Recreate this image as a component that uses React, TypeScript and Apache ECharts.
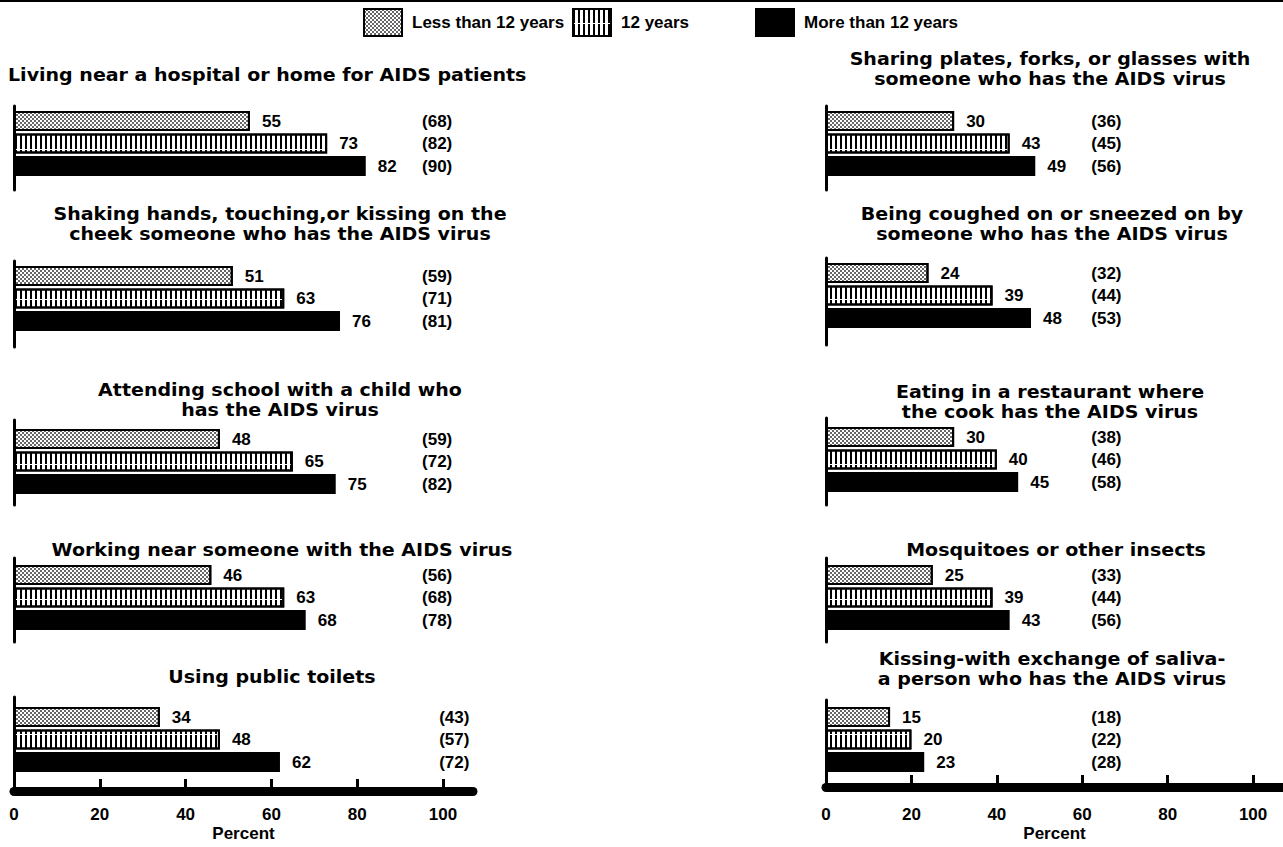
import React, { useEffect, useRef } from "react";
import * as echarts from "echarts";

// ---------- data ----------
const SERIES_NAMES = ["Less than 12 years", "12 years", "More than 12 years"];

const PANEL_TITLES = [
  "Living near a hospital or home for AIDS patients",
  "Shaking hands, touching,or kissing on the\ncheek someone who has the AIDS virus",
  "Attending school with a child who\nhas the AIDS virus",
  "Working near someone with the AIDS virus",
  "Using public toilets",
  "Sharing plates, forks, or glasses with\nsomeone who has the AIDS virus",
  "Being coughed on or sneezed on by\nsomeone who has the AIDS virus",
  "Eating in a restaurant where\nthe cook has the AIDS virus",
  "Mosquitoes or other insects",
  "Kissing-with exchange of saliva-\na person who has the AIDS virus",
];

// percent per panel, by education
const lessThan12 = [55, 51, 48, 46, 34, 30, 24, 30, 25, 15];
const twelveYears = [73, 63, 65, 63, 48, 43, 39, 40, 39, 20];
const moreThan12 = [82, 76, 75, 68, 62, 49, 48, 45, 43, 23];

// values shown in parentheses
const lessThan12Paren = [68, 59, 59, 56, 43, 36, 32, 38, 33, 18];
const twelveYearsParen = [82, 71, 72, 68, 57, 45, 44, 46, 44, 22];
const moreThan12Paren = [90, 81, 82, 78, 72, 56, 53, 58, 56, 28];

const X_TICKS = [0, 20, 40, 60, 80, 100];
const AXIS_NAME = "Percent";

// ---------- layout ----------
const FONT = '"Liberation Sans", Arial, Helvetica, sans-serif';
const TITLE_FONT = 'bold 17px "DejaVu Sans", Verdana, sans-serif';
const TITLE_SCALE_X = 1.12;
const TITLE_LINE_H = 20;
const FS = 17;
const X_MAX = 107;
const BAND = 22.5;
const BAR_W = 20;
const SIDES = [
  { left: 14, width: 459, axisBottom: 791, labelMargin: 15, nameGap: 34 },
  { left: 826, width: 458, axisBottom: 787, labelMargin: 19, nameGap: 38 },
];
const PANELS = [
  { side: 0, titleX: 8, align: "left", titleTop: 65, barCenter: 121, frameTop: 106, frameBottom: 190, parenX: 95, bottom: false },
  { side: 0, titleX: 280, align: "center", titleTop: 204, barCenter: 276, frameTop: 261, frameBottom: 347, parenX: 95, bottom: false },
  { side: 0, titleX: 280, align: "center", titleTop: 380, barCenter: 439, frameTop: 420, frameBottom: 505, parenX: 95, bottom: false },
  { side: 0, titleX: 282, align: "center", titleTop: 540, barCenter: 575, frameTop: 558, frameBottom: 642, parenX: 95, bottom: false },
  { side: 0, titleX: 272, align: "center", titleTop: 667, barCenter: 717, frameTop: 697, frameBottom: 791, parenX: 99, bottom: true },
  { side: 1, titleX: 1050, align: "center", titleTop: 49, barCenter: 121, frameTop: 106, frameBottom: 190, parenX: 62, bottom: false },
  { side: 1, titleX: 1052, align: "center", titleTop: 204, barCenter: 273, frameTop: 258, frameBottom: 345, parenX: 62, bottom: false },
  { side: 1, titleX: 1050, align: "center", titleTop: 382, barCenter: 437, frameTop: 418, frameBottom: 505, parenX: 62, bottom: false },
  { side: 1, titleX: 1056, align: "center", titleTop: 540, barCenter: 575, frameTop: 558, frameBottom: 642, parenX: 62, bottom: false },
  { side: 1, titleX: 1052, align: "center", titleTop: 649, barCenter: 717, frameTop: 700, frameBottom: 787, parenX: 62, bottom: true },
];
const LEGEND_LEFT = [363, 572, 755];

const dotDecal = {
  symbol: "rect",
  symbolSize: 0.8,
  color: "#000",
  backgroundColor: "#fff",
  dashArrayX: [
    [2, 2],
    [0, 2, 2, 0],
  ],
  dashArrayY: [2, 0],
  rotation: 0,
};
const stripeDecal = {
  symbol: "rect",
  symbolSize: 1,
  color: "#000",
  backgroundColor: "#fff",
  dashArrayX: [2, 2.2],
  dashArrayY: [14, 1],
  rotation: 0,
};

const STYLES = [
  { color: "#fff", borderColor: "#000", borderWidth: 2, decal: dotDecal },
  { color: "#fff", borderColor: "#000", borderWidth: 2, decal: stripeDecal },
  { color: "#000", borderColor: "#000", borderWidth: 2 },
];

function buildOption() {
  const values = [lessThan12, twelveYears, moreThan12];
  const parens = [lessThan12Paren, twelveYearsParen, moreThan12Paren];
  const grid: any[] = [];
  const xAxis: any[] = [];
  const yAxis: any[] = [];
  const series: any[] = [];
  const graphic: any[] = [
    { type: "rect", shape: { x: 0, y: 0, width: 1283, height: 2 }, style: { fill: "#000" } },
  ];
  const labelText = { fontFamily: FONT, fontWeight: "bold", fontSize: FS, color: "#000" };

  PANELS.forEach((p, i) => {
    const s = SIDES[p.side];
    const bottom = p.bottom ? s.axisBottom : p.frameBottom;
    // bar grid
    grid.push({ left: s.left, width: s.width, top: p.barCenter - BAND / 2, height: BAND * 3 });
    // frame grid (axes)
    grid.push({ left: s.left, width: s.width, top: p.frameTop, height: bottom - p.frameTop });
    const gA = 2 * i;
    const gB = 2 * i + 1;
    xAxis.push({ type: "value", gridIndex: gA, min: 0, max: X_MAX, show: false });
    yAxis.push({ type: "category", gridIndex: gA, data: SERIES_NAMES, inverse: true, show: false });
    xAxis.push({
      type: "value",
      gridIndex: gB,
      min: 0,
      max: X_MAX,
      show: p.bottom,
      position: "bottom",
      axisLine: { show: true, onZero: false, lineStyle: { color: "#000", width: 9 } },
      axisTick: {
        show: true,
        inside: true,
        length: 12,
        customValues: X_TICKS,
        lineStyle: { color: "#000", width: 3 },
      },
      axisLabel: { show: true, customValues: X_TICKS, margin: s.labelMargin, ...labelText },
      splitLine: { show: false },
      name: AXIS_NAME,
      nameLocation: "middle",
      nameGap: s.nameGap,
      nameTextStyle: { ...labelText },
    });
    yAxis.push({
      type: "value",
      gridIndex: gB,
      min: 0,
      max: 1,
      axisLine: { show: true, onZero: false, lineStyle: { color: "#000", width: 3 } },
      axisTick: { show: false },
      axisLabel: { show: false },
      splitLine: { show: false },
    });

    SERIES_NAMES.forEach((name, k) => {
      series.push({
        type: "bar",
        name,
        xAxisIndex: gA,
        yAxisIndex: gA,
        barWidth: BAR_W,
        barGap: "-100%",
        data: SERIES_NAMES.map((_, j) => (j === k ? values[k][i] : "-")),
        itemStyle: STYLES[k],
        label: { show: true, position: "right", distance: 12, ...labelText },
        silent: true,
      });
    });
    series.push({
      type: "scatter",
      name: "paren",
      xAxisIndex: gA,
      yAxisIndex: gA,
      symbolSize: 1,
      itemStyle: { color: "rgba(0,0,0,0)", opacity: 1 },
      data: SERIES_NAMES.map((_, k) => [p.parenX, k, parens[k][i]]),
      label: {
        show: true,
        position: "right",
        distance: 0,
        opacity: 1,
        formatter: (d: any) => "(" + d.value[2] + ")",
        ...labelText,
      },
      silent: true,
    });

    graphic.push({
      type: "text",
      x: p.titleX,
      y: p.titleTop,
      scaleX: TITLE_SCALE_X,
      silent: true,
      style: {
        text: PANEL_TITLES[i],
        fill: "#000",
        font: TITLE_FONT,
        align: p.align,
        verticalAlign: "top",
        lineHeight: TITLE_LINE_H,
      },
    });
  });

  const legend = SERIES_NAMES.map((n, i) => ({
    data: [n],
    left: LEGEND_LEFT[i],
    top: 8,
    padding: 0,
    icon: "rect",
    itemWidth: 38,
    itemHeight: 27,
    selectedMode: false,
    textStyle: { ...labelText, padding: [0, 0, 0, 5] },
  }));

  return {
    animation: false,
    backgroundColor: "#fff",
    textStyle: { fontFamily: FONT },
    legend,
    grid,
    xAxis,
    yAxis,
    series,
    graphic,
  };
}

export default function App() {
  const ref = useRef<HTMLDivElement>(null);
  useEffect(() => {
    document.body.style.margin = "0";
    if (!ref.current) return;
    const chart = echarts.init(ref.current, null, { renderer: "svg" });
    chart.setOption(buildOption() as any);
    return () => chart.dispose();
  }, []);
  return <div ref={ref} style={{ width: 1283, height: 847 }} />;
}
